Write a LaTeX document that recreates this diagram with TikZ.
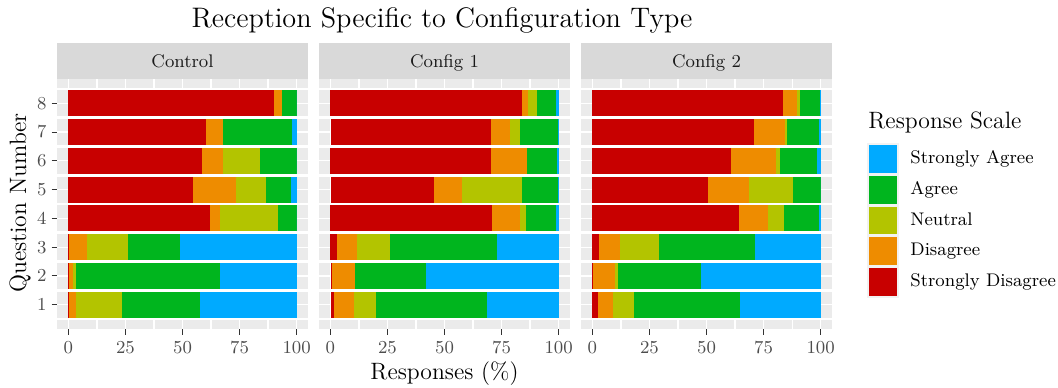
\documentclass[tikz,border=0pt]{standalone}
\usepackage{tikz}
\definecolor{sdc}{RGB}{200,0,0}
\definecolor{dc}{RGB}{238,140,0}
\definecolor{nc}{RGB}{179,196,0}
\definecolor{ac}{RGB}{0,181,30}
\definecolor{sac}{RGB}{0,170,255}
\definecolor{panelbg}{RGB}{235,235,235}
\definecolor{stripbg}{RGB}{217,217,217}
\definecolor{keybg}{RGB}{242,242,242}
\definecolor{tickc}{RGB}{51,51,51}
\definecolor{ticklab}{RGB}{77,77,77}
\definecolor{striptext}{RGB}{26,26,26}
\tikzset{
  majorgrid/.style={white,line width=0.85pt},
  minorgrid/.style={white,line width=0.55pt},
  rowgap/.style={white,line width=1.3pt},
  rowmajor/.style={white,line width=0.6pt},
  tickline/.style={tickc,line width=0.5pt},
  ticklabel/.style={inner sep=0pt,text=ticklab,font=\fontsize{8.8}{10}\selectfont},
  striplabel/.style={inner sep=0pt,text=striptext,font=\fontsize{8.8}{10}\selectfont,anchor=base},
  axtitle/.style={inner sep=0pt,font=\fontsize{11.4}{13}\selectfont,anchor=base},
  legtext/.style={inner sep=0pt,font=\fontsize{8.8}{10}\selectfont,anchor=base west},
}
\newcommand\drawpanel[4]{%
  \pgfmathsetmacro\xz{#1+11.41}
  \fill[panelbg] (#1,79) rectangle ++(251,250);
  \fill[stripbg] (#1,43) rectangle ++(251,36);
  \node[striplabel] (strip-#2) at ({#1+125.5},67) {#3};
  \foreach \v in {12.5,37.5,62.5,87.5} \draw[minorgrid] ({\xz+\v*2.2818},79) -- ++(0,250);
  \foreach \v in {0,25,50,75,100} \draw[majorgrid] ({\xz+\v*2.2818},79) -- ++(0,250);
  \foreach \v in {1,...,8} \draw[rowmajor] (#1,{103.3+(8-\v)*28.77}) -- ++(251,0);
  \foreach \v in {0.5,1.5,...,8.5} \draw[rowgap] (#1,{103.3+(8-\v)*28.77}) -- ++(251,0);
  \foreach \q/\s/\a/\b/\c/\d in {#4} {
    \pgfmathsetmacro\yt{103.3+(8-\q)*28.77-12.95}
    \pgfmathsetmacro\yb{\yt+25.9}
    \fill[sdc] ({\xz+\s*2.2818},\yt) rectangle ({\xz+\a*2.2818},\yb);
    \fill[dc] ({\xz+\a*2.2818},\yt) rectangle ({\xz+\b*2.2818},\yb);
    \fill[nc] ({\xz+\b*2.2818},\yt) rectangle ({\xz+\c*2.2818},\yb);
    \fill[ac] ({\xz+\c*2.2818},\yt) rectangle ({\xz+\d*2.2818},\yb);
    \fill[sac] ({\xz+\d*2.2818},\yt) rectangle ({\xz+100*2.2818},\yb);
  }
  \foreach \v in {0,25,50,75,100} {
    \draw[tickline] ({\xz+\v*2.2818},329) -- ++(0,5.5);
    \node[ticklabel,anchor=base] (xt-#2-\v) at ({\xz+\v*2.2818},353) {\v};
  }
}
\begin{document}
\begin{tikzpicture}[x=0.4818pt,y=-0.4818pt]
\useasboundingbox (0,0) rectangle (1058,388);
\node[inner sep=0pt,anchor=base,font=\fontsize{13.6}{15}\selectfont] (title) at (442,27) {Reception Specific to Configuration Type};
\drawpanel{57}{ctrl}{Control}{8/0/89.9/93.4/93.4/100, 7/0/60.1/67.6/67.6/97.8, 6/0/58.4/67.6/83.8/100, 5/0/54.5/73.3/86.4/97.4, 4/0/61.9/66.3/91.7/100, 3/0/0.4/8.0/26.0/48.8, 2/0/0.4/1.9/3.2/66.3, 1/0/0.4/3.2/23.4/57.5}
\drawpanel{319}{cfa}{Config 1}{8/0/84.1/86.7/90.6/99.0, 7/0.3/70.5/78.8/83.2/99.7, 6/0/70.5/86.1/86.2/99.4, 5/0.3/45.5/57.7/84.1/99.7, 4/0/70.9/83.2/85.8/99.0, 3/0/2.9/11.7/26.2/73.1, 2/0.3/0.8/10.7/10.8/42.0, 1/0.3/1.6/10.4/20.0/68.7}
\drawpanel{581}{cfb}{Config 2}{8/0/83.5/89.6/90.9/99.7, 7/0/70.7/84.3/85.2/99.3, 6/0/60.6/80.4/82.1/98.4, 5/0/50.5/68.5/87.8/100, 4/0/64.1/76.9/83.9/99.3, 3/0/3.1/12.3/29.0/71.2, 2/0/0.4/10.1/11.0/47.4, 1/0/2.6/9.2/18.4/64.6}
% y axis
\foreach \q in {1,...,8} {
  \draw[tickline] (51.5,{103.3+(8-\q)*28.77}) -- (57,{103.3+(8-\q)*28.77});
  \node[ticklabel,anchor=base east] (yt-\q) at (47,{103.3+(8-\q)*28.77+5.9}) {\q};
}
\node[axtitle,rotate=90] (ytitle) at (26,203) {Question Number};
\node[axtitle] (xtitle) at (444.5,379) {Responses (\%)};
% legend
\node[axtitle,anchor=base west] (legtitle) at (868,128) {Response Scale};
\fill[keybg] (866.7,142.7) rectangle (899.3,297.7);
\foreach \c/\t/\yc [count=\i] in {sac/Strongly Agree/158.8, ac/Agree/190, nc/Neutral/220.5, dc/Disagree/251, sdc/Strongly Disagree/281.7} {
  \fill[\c] (869,{\yc-13.8}) rectangle (897,{\yc+13.8});
  \node[legtext] (leg-\i) at (910,{\yc+4.8}) {\t};
}
\end{tikzpicture}
\end{document}
